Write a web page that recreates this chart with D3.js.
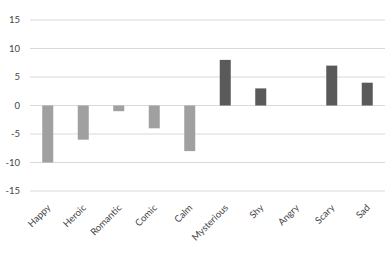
<!DOCTYPE html>
<html>
<head>
<meta charset="utf-8">
<script src="https://cdn.jsdelivr.net/npm/d3@7"></script>
<style>
  body { margin: 0; background: #fff; }
  svg text { font-family: Lato, "Open Sans", sans-serif; fill: #444; }
</style>
</head>
<body>
<div id="chart"></div>
<script>
// moods and their scores
const categories = ["Happy", "Heroic", "Romantic", "Comic", "Calm", "Mysterious", "Shy", "Angry", "Scary", "Sad"];
const values = [-10, -6, -1, -4, -8, 8, 3, 0, 7, 4];
const yTicks = [-15, -10, -5, 0, 5, 10, 15];

const width = 392, height = 253;
const margin = { top: 20, right: 7, bottom: 62, left: 30 };

const svg = d3.select("#chart")
    .append("svg")
    .attr("width", width)
    .attr("height", height);

const x = d3.scaleBand()
    .domain(categories)
    .range([margin.left, width - margin.right])
    .paddingInner(0.69)
    .paddingOuter(0.345);

const y = d3.scaleLinear()
    .domain([-15, 15])
    .range([height - margin.bottom, margin.top]);

// gridlines
svg.append("g")
    .selectAll("line")
    .data(yTicks)
    .join("line")
    .attr("x1", margin.left)
    .attr("x2", width - margin.right)
    .attr("y1", d => y(d))
    .attr("y2", d => y(d))
    .attr("stroke", "#d9d9d9")
    .attr("stroke-width", 1);

// y labels
svg.append("g")
    .selectAll("text")
    .data(yTicks)
    .join("text")
    .attr("x", 20)
    .attr("y", d => y(d))
    .attr("dy", "0.35em")
    .attr("text-anchor", "end")
    .style("font-size", "9.5px")
    .text(d => d);

// bars: negatives lighter, positives darker
svg.append("g")
    .selectAll("rect")
    .data(categories.map((c, i) => ({ cat: c, val: values[i] })))
    .join("rect")
    .attr("x", d => x(d.cat))
    .attr("width", x.bandwidth())
    .attr("y", d => y(Math.max(0, d.val)))
    .attr("height", d => Math.abs(y(d.val) - y(0)))
    .attr("fill", d => d.val < 0 ? "#a0a0a0" : "#5a5a5a");

// x labels, rotated
svg.append("g")
    .selectAll("text")
    .data(categories)
    .join("text")
    .attr("transform", d => `translate(${x(d) + x.bandwidth() / 2 + 1},${y(-15) + 15}) rotate(-45)`)
    .attr("text-anchor", "end")
    .attr("dy", "0.35em")
    .style("font-size", "9.5px")
    .text(d => d);
</script>
</body>
</html>
